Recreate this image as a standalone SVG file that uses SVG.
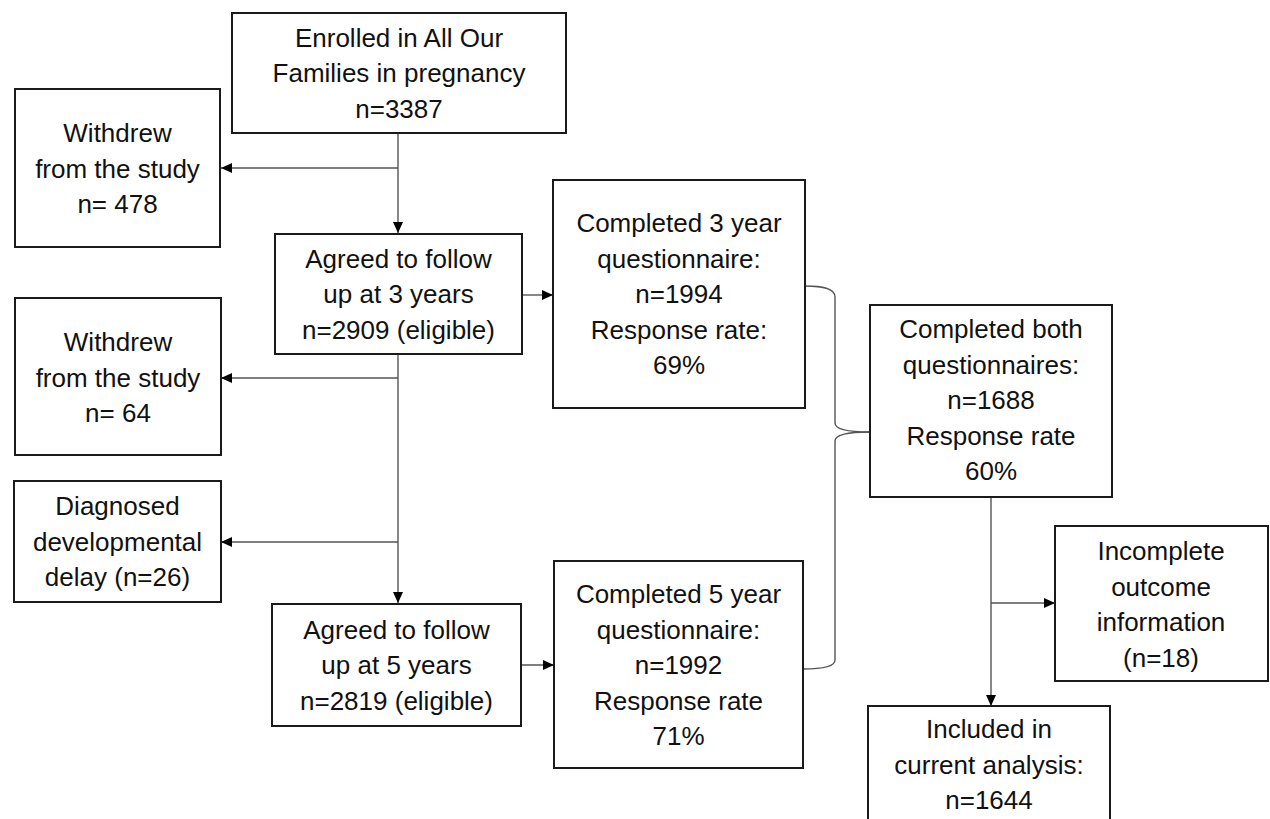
<svg xmlns="http://www.w3.org/2000/svg" width="1270" height="819" viewBox="0 0 1270 819">
<defs>
<marker id="arr" markerUnits="userSpaceOnUse" markerWidth="11" markerHeight="10" refX="11" refY="5" orient="auto">
<path d="M0,0 L11,5 L0,10 z" fill="#000"/>
</marker>
<style>
.box{fill:#fff;stroke:#1a1a1a;stroke-width:2}
.t{font-family:"Liberation Sans",Arial,sans-serif;font-size:26px;fill:#111;text-anchor:middle}
.c{fill:none;stroke:#555;stroke-width:1.4}
.ca{fill:none;stroke:#555;stroke-width:1.4;marker-end:url(#arr)}
</style>
</defs>
<rect width="1270" height="819" fill="#fff"/>
<g id="connectors">
<path class="ca" d="M398,133 V233"/>
<path class="ca" d="M398,168 H221"/>
<path class="ca" d="M522,295 H553"/>
<path class="ca" d="M398,355 V603"/>
<path class="ca" d="M398,378 H221"/>
<path class="ca" d="M398,542 H221"/>
<path class="ca" d="M521,665 H554"/>
<path class="c" d="M805,286 C822,286 835,288 835,297 V423 C835,430 850,432 870,432"/>
<path class="c" d="M870,432 C850,432 835,434 835,441 V660 C835,667 822,669 803,669"/>
<path class="ca" d="M991,497 V706"/>
<path class="ca" d="M991,603 H1055"/>
</g>
<g id="enrolled">
<rect class="box" x="232" y="13" width="334" height="120"/>
<text class="t" x="399" y="47">Enrolled in All Our</text>
<text class="t" x="399" y="82">Families in pregnancy</text>
<text class="t" x="399" y="118">n=3387</text>
</g>
<g id="withdrew1">
<rect class="box" x="15" y="89" width="205" height="158"/>
<text class="t" x="117.5" y="142">Withdrew</text>
<text class="t" x="117.5" y="178">from the study</text>
<text class="t" x="117.5" y="213">n= 478</text>
</g>
<g id="agreed3">
<rect class="box" x="275" y="234" width="247" height="120"/>
<text class="t" x="398.5" y="267.5">Agreed to follow</text>
<text class="t" x="398.5" y="303">up at 3 years</text>
<text class="t" x="398.5" y="339">n=2909 (eligible)</text>
</g>
<g id="completed3">
<rect class="box" x="553" y="180" width="252" height="228"/>
<text class="t" x="679" y="232">Completed 3 year</text>
<text class="t" x="679" y="267.5">questionnaire:</text>
<text class="t" x="679" y="303">n=1994</text>
<text class="t" x="679" y="338.5">Response rate:</text>
<text class="t" x="679" y="374">69%</text>
</g>
<g id="withdrew2">
<rect class="box" x="15" y="298" width="206" height="157"/>
<text class="t" x="118" y="351">Withdrew</text>
<text class="t" x="118" y="386.5">from the study</text>
<text class="t" x="118" y="422">n= 64</text>
</g>
<g id="diagnosed">
<rect class="box" x="14" y="481" width="207" height="121"/>
<text class="t" x="117.5" y="515">Diagnosed</text>
<text class="t" x="117.5" y="550.5">developmental</text>
<text class="t" x="117.5" y="586">delay (n=26)</text>
</g>
<g id="agreed5">
<rect class="box" x="272" y="604" width="249" height="122"/>
<text class="t" x="396.5" y="638.5">Agreed to follow</text>
<text class="t" x="396.5" y="674">up at 5 years</text>
<text class="t" x="396.5" y="709.5">n=2819 (eligible)</text>
</g>
<g id="completed5">
<rect class="box" x="554" y="561" width="249" height="207"/>
<text class="t" x="678.5" y="603">Completed 5 year</text>
<text class="t" x="678.5" y="638.5">questionnaire:</text>
<text class="t" x="678.5" y="674">n=1992</text>
<text class="t" x="678.5" y="709.5">Response rate</text>
<text class="t" x="678.5" y="745">71%</text>
</g>
<g id="completedboth">
<rect class="box" x="870" y="305" width="242" height="192"/>
<text class="t" x="991" y="338">Completed both</text>
<text class="t" x="991" y="373.5">questionnaires:</text>
<text class="t" x="991" y="409">n=1688</text>
<text class="t" x="991" y="444.5">Response rate</text>
<text class="t" x="991" y="480">60%</text>
</g>
<g id="incomplete">
<rect class="box" x="1055" y="526" width="213" height="155"/>
<text class="t" x="1161" y="560">Incomplete</text>
<text class="t" x="1161" y="595.5">outcome</text>
<text class="t" x="1161" y="631">information</text>
<text class="t" x="1161" y="666.5">(n=18)</text>
</g>
<g id="included">
<rect class="box" x="868" y="706" width="242" height="130"/>
<text class="t" x="989" y="738">Included in</text>
<text class="t" x="989" y="773.5">current analysis:</text>
<text class="t" x="989" y="809">n=1644</text>
</g>
</svg>
